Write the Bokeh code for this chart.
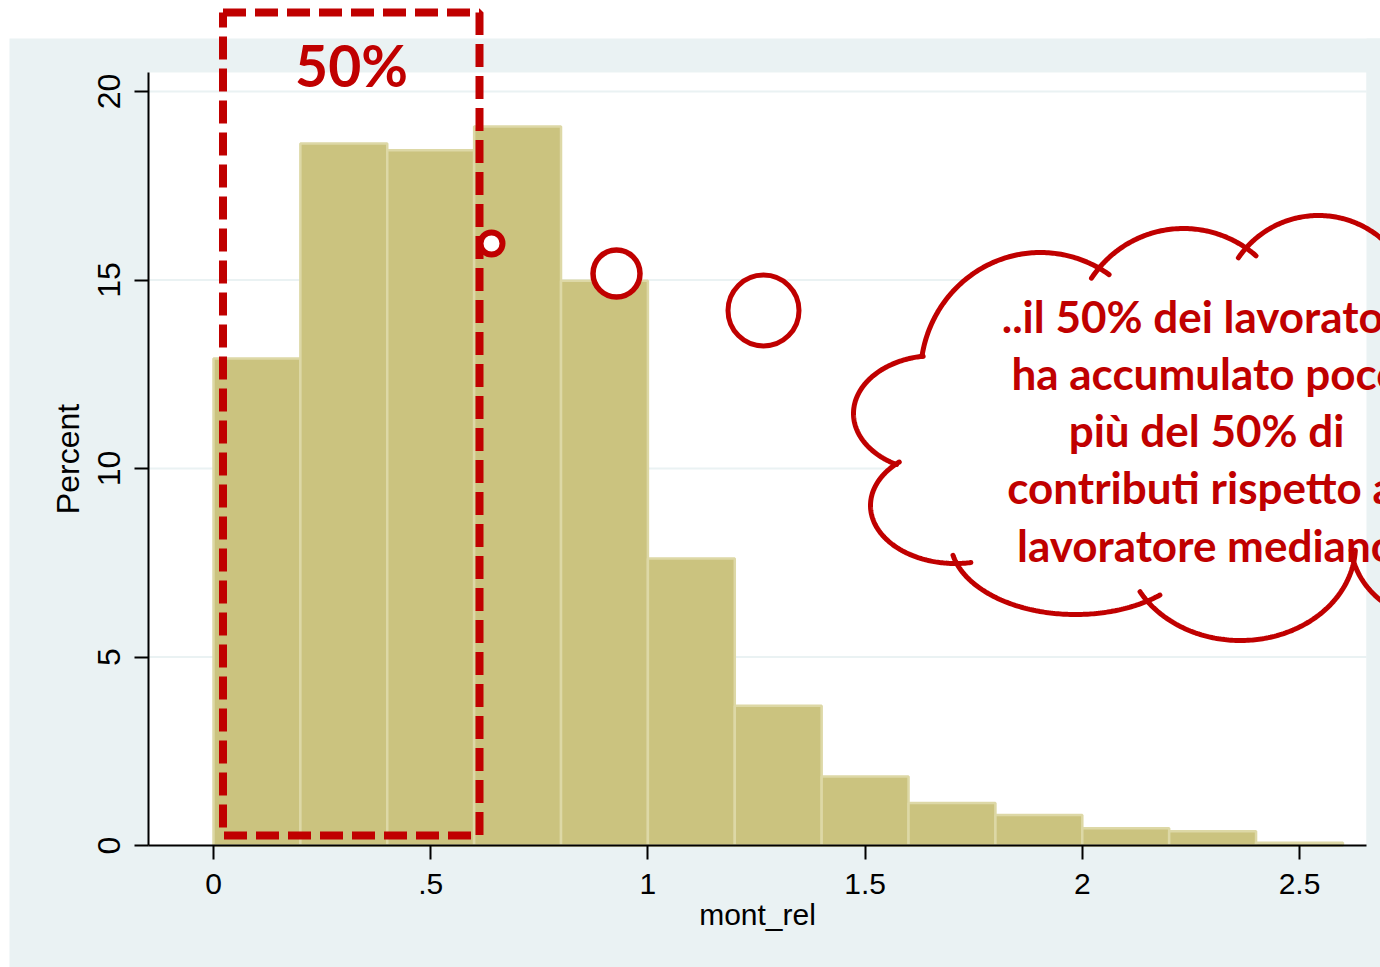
import numpy as np
from bokeh.plotting import figure
from bokeh.models import Range1d, FixedTicker, Label, LinearAxis
from bokeh.embed import file_html
from bokeh.resources import INLINE

# ---------------- data ----------------
bin_left = [0.0, 0.2, 0.4, 0.6, 0.8, 1.0, 1.2, 1.4, 1.6, 1.8, 2.0, 2.2, 2.4]
bin_right = [0.2, 0.4, 0.6, 0.8, 1.0, 1.2, 1.4, 1.6, 1.8, 2.0, 2.2, 2.4, 2.6]
percent = [12.92, 18.62, 18.44, 19.07, 14.98, 7.61, 3.71, 1.83, 1.13, 0.81, 0.46, 0.38, 0.07]

x_ticks = [0, 0.5, 1, 1.5, 2, 2.5]
x_tick_labels = ["0", ".5", "1", "1.5", "2", "2.5"]
y_ticks = [0, 5, 10, 15, 20]
y_tick_labels = ["0", "5", "10", "15", "20"]
grid_ticks = [5, 10, 15, 20]

x_title = "mont_rel"
y_title = "Percent"
box_label = "50%"
cloud_lines = [
    "..il 50% dei lavoratori",
    "ha accumulato poco",
    "più del 50% di",
    "contributi rispetto al",
    "lavoratore mediano",
]

RED = "#C00000"
BG = "#EAF2F3"
W, H = 1380, 967

# page-pixel -> data helpers (decorations only)
X0, XS = 213.0, 434.4
Y0, YS = 845.0, 37.7


def dx(px):
    return (px - X0) / XS


def dy(py):
    return (Y0 - py) / YS


PL, PR, PT, PB = 148, 1366, 72, 845   # Stata plot region (page px)

p = figure(
    width=W, height=H,
    x_range=Range1d(dx(0), dx(W)), y_range=Range1d(dy(H), dy(0)),
    output_backend="svg", toolbar_location=None,
    x_axis_location=None, y_axis_location=None,
    min_border=0, min_border_left=0, min_border_right=0,
    min_border_top=0, min_border_bottom=0,
)
p.background_fill_color = "white"
p.border_fill_color = "white"
p.outline_line_color = None
p.grid.visible = False

# graph region background + plot region
p.quad(left=dx(9), right=dx(W), top=dy(38), bottom=dy(H), fill_color=BG, line_color=None)
p.quad(left=dx(PL), right=dx(PR), top=dy(PT), bottom=dy(PB), fill_color="white", line_color=None)
p.segment(x0=[dx(PL)] * len(grid_ticks), x1=[dx(PR)] * len(grid_ticks),
          y0=grid_ticks, y1=grid_ticks, line_color=BG, line_width=2)

# axes
xaxis = LinearAxis(fixed_location=0, bounds=(dx(PL), dx(PR)))
yaxis = LinearAxis(fixed_location=dx(PL), bounds=(0, dy(PT)))
p.add_layout(xaxis, "below")
p.add_layout(yaxis, "left")

for ax in (xaxis, yaxis):
    ax.axis_line_color = "black"
    ax.axis_line_width = 2
    ax.major_tick_line_color = "black"
    ax.major_tick_line_width = 2
    ax.major_tick_out = 14
    ax.major_tick_in = 0
    ax.minor_tick_line_color = None
    ax.major_label_text_font = "Liberation Sans"
    ax.major_label_text_color = "black"
    ax.axis_label_text_font = "Liberation Sans"
    ax.axis_label_text_font_style = "normal"
    ax.axis_label_text_color = "black"

xaxis.ticker = FixedTicker(ticks=x_ticks)
xaxis.major_label_overrides = {t: l for t, l in zip(x_ticks, x_tick_labels)}
xaxis.major_label_text_font_size = "30px"
xaxis.major_label_standoff = 14
xaxis.axis_label = x_title
xaxis.axis_label_text_font_size = "30px"
xaxis.axis_label_standoff = 1

yaxis.ticker = FixedTicker(ticks=y_ticks)
yaxis.major_label_overrides = {t: l for t, l in zip(y_ticks, y_tick_labels)}
yaxis.major_label_orientation = "vertical"
yaxis.major_label_text_font_size = "32px"
yaxis.major_label_standoff = 15
yaxis.axis_label = y_title
yaxis.axis_label_text_font_size = "32px"
yaxis.axis_label_standoff = 9

# histogram bars
p.quad(left=bin_left, right=bin_right, bottom=0, top=percent,
       fill_color="#CBC37F", line_color="#DDD8A6", line_width=2.5)

# ---------------- decorations ----------------
bl, br, bt, bb = 222.5, 479, 12, 835
p.line(x=[dx(bl), dx(br), dx(br), dx(bl), dx(bl)],
       y=[dy(bt), dy(bt), dy(bb), dy(bb), dy(bt)],
       line_color=RED, line_width=8, line_dash="23 9")

p.add_layout(Label(x=dx(351), y=dy(64), text=box_label, text_font="Lato",
                   text_font_style="bold", text_font_size="57px",
                   text_color=RED, text_align="center", text_baseline="alphabetic"))

# thought-bubble circles (page px: cx, cy, radius, line width)
bubbles = [(491, 243, 11, 6), (616, 273, 23.5, 5.5), (763, 310, 35.5, 5)]
for (cx, cy, r, lw) in bubbles:
    p.scatter(x=[dx(cx)], y=[dy(cy)], marker="circle", size=2 * r,
              fill_color="white", line_color=RED, line_width=lw)

# cloud (page-pixel ellipses: cx, cy, rx, ry)
bumps = [
    (1040, 375, 120, 123),   # upper left
    (1183, 338, 110, 110),   # top middle
    (1318, 312, 97, 97),     # top right
    (935, 413, 82, 58),      # left
    (955, 505, 85, 58),      # lower left
    (1075, 540, 125, 74),    # bottom left
    (1240, 545, 115, 95),    # bottom right
    (1440, 540, 90, 80),     # right (off page)
]
hidden = [
    (1120, 430, 240, 150),
    (1330, 420, 70, 150),
    (1500, 400, 115, 170),
]
all_ell = bumps + hidden

p.ellipse(x=[dx(e[0]) for e in all_ell], y=[dy(e[1]) for e in all_ell],
          width=[2 * e[2] for e in all_ell], height=[2 * e[3] for e in all_ell],
          width_units="screen", height_units="screen",
          fill_color="white", line_color=None)
# the cloud's white fill stops at the plot region edge
p.quad(left=dx(PR), right=dx(W), top=dy(38), bottom=dy(H), fill_color=BG, line_color=None)


def inside(x, y, e):
    return ((x - e[0]) / e[2]) ** 2 + ((y - e[1]) / e[3]) ** 2 < 1.0


arc_xs, arc_ys = [], []
for k, e in enumerate(bumps):
    ang = np.arange(0, 360, 1.0)
    t = np.radians(ang)
    px = e[0] + e[2] * np.cos(t)
    py = e[1] + e[3] * np.sin(t)
    vis = np.ones(len(ang), dtype=bool)
    for j, o in enumerate(all_ell):
        if j != k:
            vis &= ~inside(px, py, o)
    if not vis.any():
        continue
    n = len(ang)
    start_idx = int(np.argmin(vis)) if not vis.all() else 0
    runs, cur = [], []
    for i in [(start_idx + i) % n for i in range(n)]:
        if vis[i]:
            cur.append(ang[i])
        elif cur:
            runs.append(cur)
            cur = []
    if cur:
        runs.append(cur)
    ext = np.degrees(13.0 / ((e[2] + e[3]) / 2))
    for run in runs:
        a = np.radians(np.arange(run[0] - ext, run[0] + len(run) - 1 + ext + 0.5, 1.0))
        arc_xs.append([dx(v) for v in e[0] + e[2] * np.cos(a)])
        arc_ys.append([dy(v) for v in e[1] + e[3] * np.sin(a)])

p.multi_line(xs=arc_xs, ys=arc_ys, line_color=RED, line_width=5, line_cap="round")

for i, line in enumerate(cloud_lines):
    p.add_layout(Label(x=dx(1206), y=dy(315 + i * 57.3), text=line, text_font="Lato",
                       text_font_style="bold", text_font_size="44px", text_color=RED,
                       text_align="center", text_baseline="alphabetic"))

open("out.html", "w").write(file_html(p, INLINE))
